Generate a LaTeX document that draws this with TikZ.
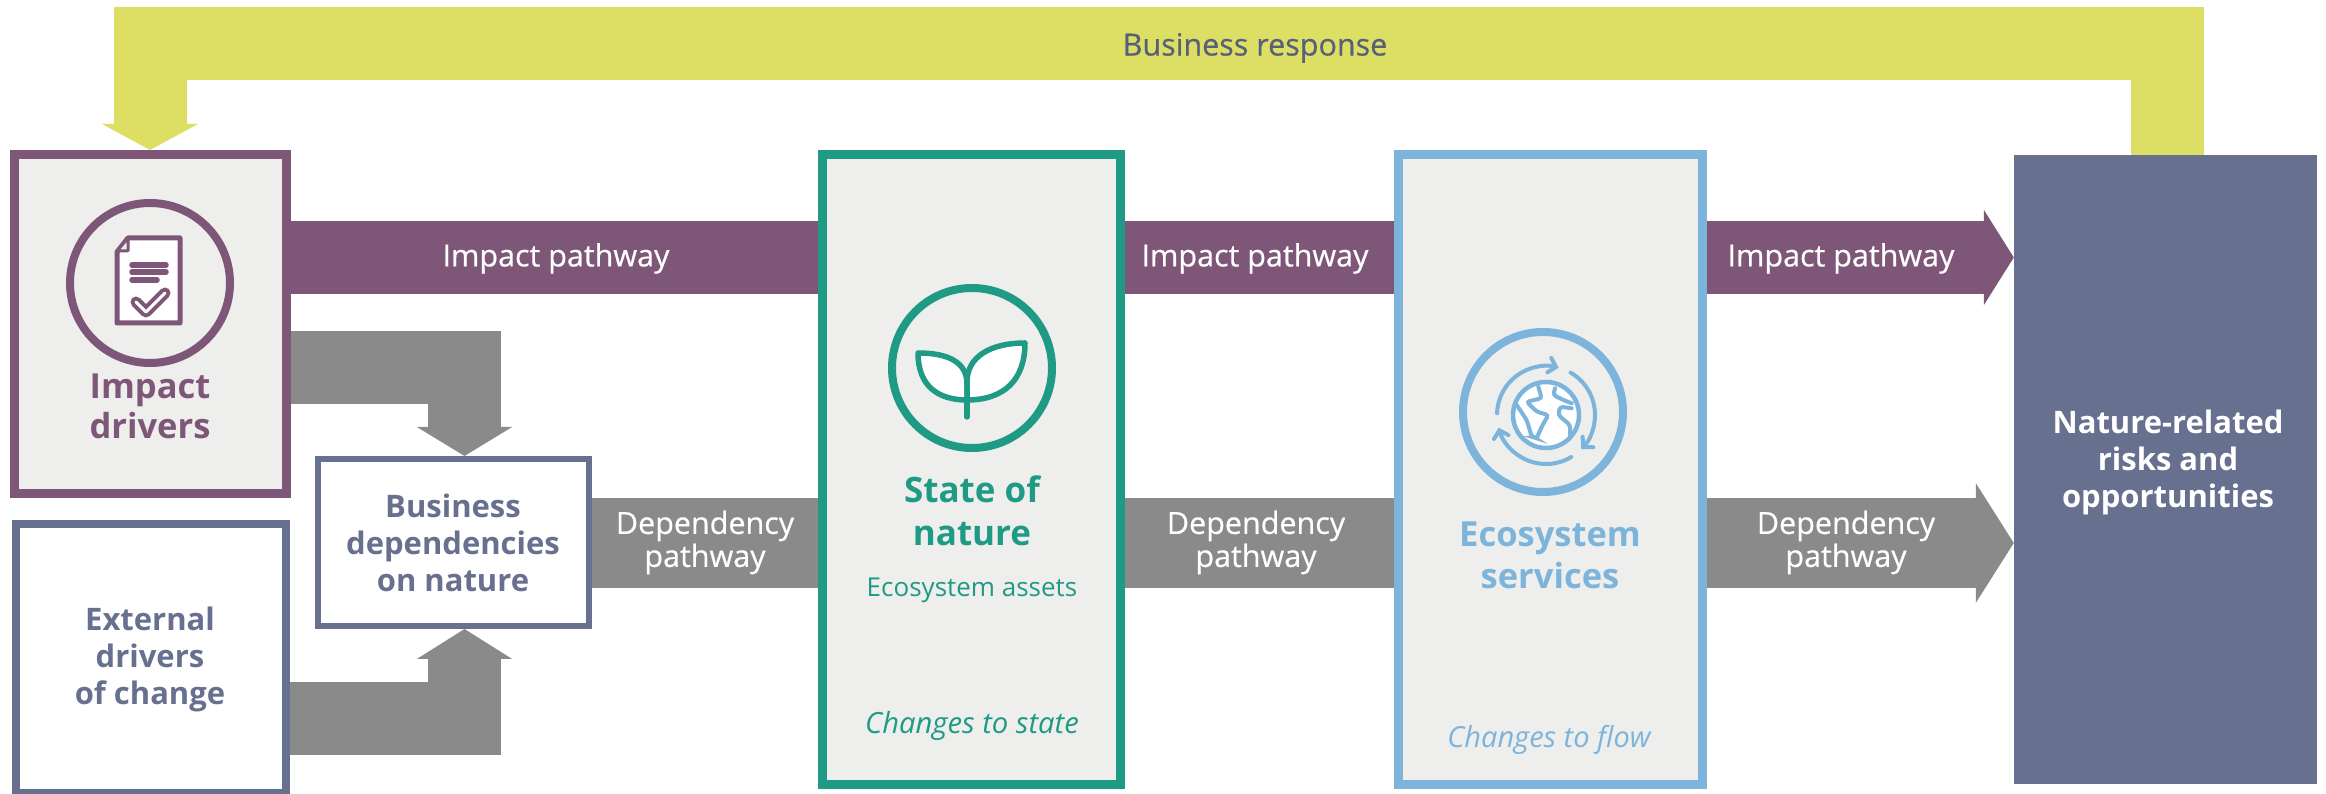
\documentclass[tikz,border=0pt]{standalone}
\usepackage{fontspec}
\setmainfont{Open Sans}
\newfontfamily\mediumfont[FakeBold=0.5]{Open Sans}
\usetikzlibrary{arrows.meta}
\begin{document}
\begin{tikzpicture}[x=1pt,y=1pt,
  panel/.style={draw,rectangle,line width=9pt,inner sep=0pt},
  ring/.style={draw,circle,line width=8pt,minimum size=160pt,inner sep=0pt},
  band/.style={line width=73pt},
  bandtext/.style={text=white,inner sep=0pt,align=center,font=\mediumfont\fontsize{30.5}{33}\selectfont},
  headtext/.style={inner sep=0pt,align=center,font=\bfseries\fontsize{31}{37}\selectfont},
  subtext/.style={inner sep=0pt,align=center,font=\fontsize{26}{34}\selectfont}]
\definecolor{fillColor}{RGB}{255,255,255}
\definecolor{impactColor}{RGB}{126,87,120}
\definecolor{stateColor}{RGB}{31,154,133}
\definecolor{serviceColor}{RGB}{125,180,219}
\definecolor{slateColor}{RGB}{103,112,143}
\definecolor{responseColor}{RGB}{220,223,99}
\definecolor{pathColor}{RGB}{138,138,138}
\definecolor{paleColor}{RGB}{238,238,236}
\path[use as bounding box,fill=fillColor] (0,0) rectangle (2326,794);

\node[panel,draw=impactColor,fill=paleColor,minimum width=272pt,minimum height=339pt] (impactbox) at (150.5,470) {};

\node[panel,draw=slateColor,fill=fillColor,line width=8pt,minimum width=270.5pt,minimum height=269pt] (externalbox) at (150.75,135.5) {};

\node[panel,draw=slateColor,fill=fillColor,line width=6pt,minimum width=271pt,minimum height=167pt] (businessbox) at (453.5,251.5) {};

\node[panel,draw=stateColor,fill=paleColor,minimum width=298pt,minimum height=630pt] (statebox) at (971.5,324.5) {};

\node[panel,draw=serviceColor,fill=paleColor,minimum width=304pt,minimum height=630pt] (servicebox) at (1550.5,324.5) {};

\node[rectangle,fill=slateColor,inner sep=0pt,minimum width=303pt,minimum height=629pt] (riskbox) at (2165.5,324.5) {};

\coordinate (impactline) at (0,536.5);
\coordinate (dependline) at (0,251);
\coordinate (upperfeed) at (464.5,426);
\coordinate (lowerfeed) at (464.5,75.5);
\coordinate (responseright) at (2167,750.5);
\coordinate (responseleft) at (150,750.5);

\draw[band,draw=responseColor,-{Triangle[length=26pt,width=95pt]}] (riskbox.north -| responseright) -- (responseright) -- (responseleft) -- (responseleft |- impactbox.north);

\draw[band,draw=impactColor] (impactbox.east |- impactline) -- (statebox.west |- impactline);

\draw[band,draw=impactColor] (statebox.east |- impactline) -- (servicebox.west |- impactline);

\draw[band,draw=impactColor,-{Triangle[length=30pt,width=94pt]}] (servicebox.east |- impactline) -- (riskbox.west |- impactline);

\draw[band,draw=pathColor,line width=90pt] (businessbox.east |- dependline) -- (statebox.west |- dependline);

\draw[band,draw=pathColor,line width=90pt] (statebox.east |- dependline) -- (servicebox.west |- dependline);

\draw[band,draw=pathColor,line width=90pt,-{Triangle[length=38pt,width=118pt]}] (servicebox.east |- dependline) -- (riskbox.west |- dependline);

\draw[band,draw=pathColor,-{Triangle[length=29pt,width=94pt]}] (impactbox.east |- upperfeed) -| (upperfeed |- businessbox.north);

\draw[band,draw=pathColor,-{Triangle[length=30pt,width=94pt]}] (externalbox.east |- lowerfeed) -| (lowerfeed |- businessbox.south);

\node[ring,draw=impactColor] (impactring) at (150,511) {};

\node[ring,draw=stateColor] (statering) at (972,426) {};

\node[ring,draw=serviceColor] (servicering) at (1543,382) {};

\path[draw=impactColor,fill=fillColor,line width=5pt,line join=round] (128,556) -- (180,556) -- (180,471) -- (117,471) -- (117,542) -- cycle;

\path[draw=impactColor,fill=paleColor,line width=3pt,line join=round] (128,556) -- (117,543) -- (128,543) -- cycle;

\path[draw=impactColor,line width=5.5pt,line cap=round] (132,529) -- (166,529);

\path[draw=impactColor,line width=5.5pt,line cap=round] (132,522) -- (166,522);

\path[draw=impactColor,line width=5.5pt,line cap=round] (132,514) -- (157,514);

\path[draw=impactColor,line width=11pt,line join=round,line cap=round] (136,492) -- (146,482) -- (165,501);

\path[draw=fillColor,line width=3pt,line join=round,line cap=round] (136,492) -- (146,482) -- (165,501);

\path[draw=stateColor,fill=fillColor,line width=5.5pt,line join=round] (918,441) .. controls (948,441) and (967,432) .. (967,410) -- (967,394) .. controls (938,394) and (918,408) .. (918,441) -- cycle;

\path[draw=stateColor,fill=fillColor,line width=5.5pt,line join=round] (1025,451) .. controls (990,451) and (967,437) .. (967,412) -- (967,394) .. controls (1005,394) and (1025,415) .. (1025,451) -- cycle;

\path[draw=stateColor,line width=5.5pt,line cap=round] (967,394) -- (967,377);

\path[draw=serviceColor,fill=fillColor,line width=4.5pt] (1546,379) circle (33);

\path[draw=serviceColor,line width=4pt,rounded corners=3pt,line cap=round] (1538.3,407.3) -- (1541.7,395.7) -- (1526.7,392.3) -- (1536.7,382.3) -- (1548.3,379) -- (1541.7,367.3) -- (1536.7,355.7) -- (1531.7,357.3) -- (1526.7,374) -- (1516.7,389);

\path[draw=serviceColor,line width=4pt,rounded corners=3pt,line cap=round] (1555,405.7) -- (1553.3,399) -- (1563.3,394) -- (1571.7,390.7);

\path[draw=serviceColor,line width=4pt,rounded corners=3pt,line cap=round] (1571.7,385.7) -- (1560,387.3) -- (1558.3,379) -- (1570,369) -- (1570,359);

\foreach \startangle/\stopangle in {178/75,60/-44,-59/-165}{
\draw[draw=serviceColor,line width=4pt,line cap=round,-{Straight Barb[length=7pt,width=15pt,line cap=round]}] (1546,379) ++(\startangle:49) arc (\startangle:\stopangle:49);
}

\node[text=slateColor!85!black,inner sep=0pt,font=\mediumfont\fontsize{30.5}{33}\selectfont] (responselabel) at (1255,746) {Business response};

\node[bandtext] (impactlabela) at (556,535.5) {Impact pathway};

\node[bandtext] (impactlabelb) at (1255,535.5) {Impact pathway};

\node[bandtext] (impactlabelc) at (1841,535.5) {Impact pathway};

\node[bandtext] (dependlabela) at (705,251.5) {Dependency\\pathway};

\node[bandtext] (dependlabelb) at (1256,251.5) {Dependency\\pathway};

\node[bandtext] (dependlabelc) at (1846,251.5) {Dependency\\pathway};

\node[headtext,text=impactColor,font=\bfseries\fontsize{34.5}{40}\selectfont] (impacttext) at (150,388) {Impact\\drivers};

\node[headtext,text=slateColor] (externaltext) at (150,135) {External\\drivers\\of change};

\node[headtext,text=slateColor] (businesstext) at (453,251) {Business\\dependencies\\on nature};

\node[headtext,text=stateColor,font=\bfseries\fontsize{35}{43}\selectfont] (statetext) at (972,283) {State of\\nature};

\node[subtext,text=stateColor] (assettext) at (972,204) {Ecosystem assets};

\node[subtext,text=stateColor,font=\itshape\fontsize{29.2}{34}\selectfont] (statechange) at (972,68) {Changes to state};

\node[headtext,text=serviceColor,font=\bfseries\fontsize{34.5}{42}\selectfont] (servicetext) at (1550,239) {Ecosystem\\services};

\node[subtext,text=serviceColor,font=\itshape\fontsize{29}{34}\selectfont] (servicechange) at (1549,54) {Changes to flow};

\node[headtext,text=fillColor] (risktext) at (2168,331.5) {Nature-related\\risks and\\opportunities};
\end{tikzpicture}
\end{document}
